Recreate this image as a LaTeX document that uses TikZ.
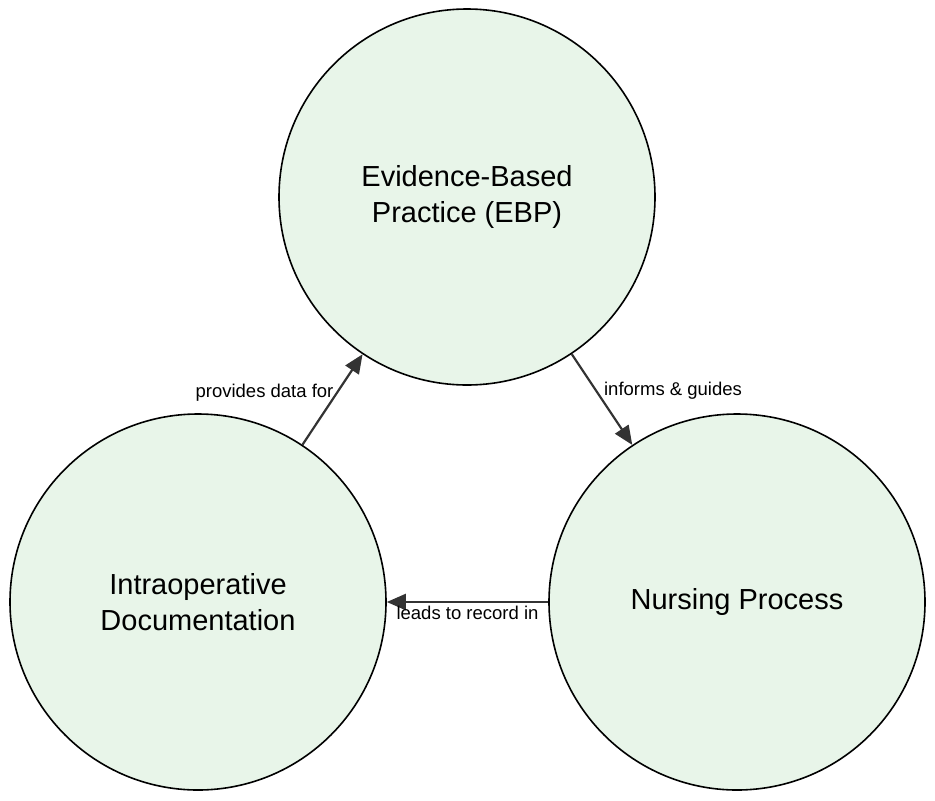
\documentclass[tikz,border=0pt]{standalone}
\usepackage{fontspec}
\setmainfont{Liberation Sans}
\usepackage{xcolor}
\usetikzlibrary{arrows.meta,positioning,calc}

\definecolor{circfill}{RGB}{232,245,233}
\definecolor{arrowgray}{RGB}{51,51,51}

\tikzset{
  concept/.style={circle,draw=black,line width=1.6pt,fill=circfill,
    minimum size=376pt,inner sep=0pt,align=center,
    font=\fontsize{29}{36}\selectfont},
  flow/.style={draw=arrowgray,line width=2.2pt,
    -{Triangle[length=19pt,width=16pt]}},
  flowlabel/.style={inner sep=1pt,font=\fontsize{18.5}{22}\selectfont}
}

\begin{document}
\begin{tikzpicture}[x=1pt,y=-1pt]
\useasboundingbox (0,0) rectangle (935,801);
% Circles
\node[concept] (ebp) at (467,197) {Evidence-Based\\Practice (EBP)};
\node[concept] (intra) at (198,602) {Intraoperative\\Documentation};
\node[concept] (nurs) at (737,602) {Nursing Process};
% Arrows
\draw[flow] (intra) -- (ebp)
  node[flowlabel,midway,anchor=base east,xshift=3pt,yshift=2pt] {provides data for};
\draw[flow] (ebp) -- (nurs)
  node[flowlabel,midway,anchor=base west,yshift=4.5pt] {informs \& guides};
\draw[flow] (nurs) -- (intra)
  node[flowlabel,midway,anchor=base,yshift=-17pt] {leads to record in};
\end{tikzpicture}
\end{document}
